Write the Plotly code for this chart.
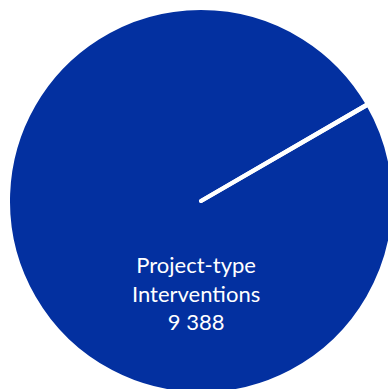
import plotly.graph_objects as go

labels = ['Project-type Interventions', 'Other']
values = [9388, 4]
colors = ['#0330A0', '#0330A0']

W, H = 394, 394
fig = go.Figure()
fig.add_trace(go.Pie(labels=labels, values=values, sort=False, rotation=60,
                     direction='clockwise', textinfo='none', hoverinfo='label+value',
                     marker=dict(colors=colors, line=dict(color='white', width=4)),
                     domain=dict(x=[8 / W, 1], y=[0, 1 - 8 / H])))
# label of the big slice, written below the centre like the original
txt = labels[0].replace(' ', '<br>') + '<br>' + f"{values[0]:,}".replace(',', ' ')
fig.add_annotation(x=196 / W, y=1 - 293 / H, xref='paper', yref='paper', text=txt,
                   showarrow=False, xanchor='center', yanchor='middle',
                   font=dict(family='Lato', size=22, color='white'))
fig.update_layout(width=W, height=H, margin=dict(l=0, r=0, t=0, b=0),
                  showlegend=False, paper_bgcolor='white')
fig.write_html("out.html", config={'displayModeBar': False},
               post_script="document.body.style.margin='0';document.body.style.overflow='hidden';document.documentElement.style.overflow='hidden';")
